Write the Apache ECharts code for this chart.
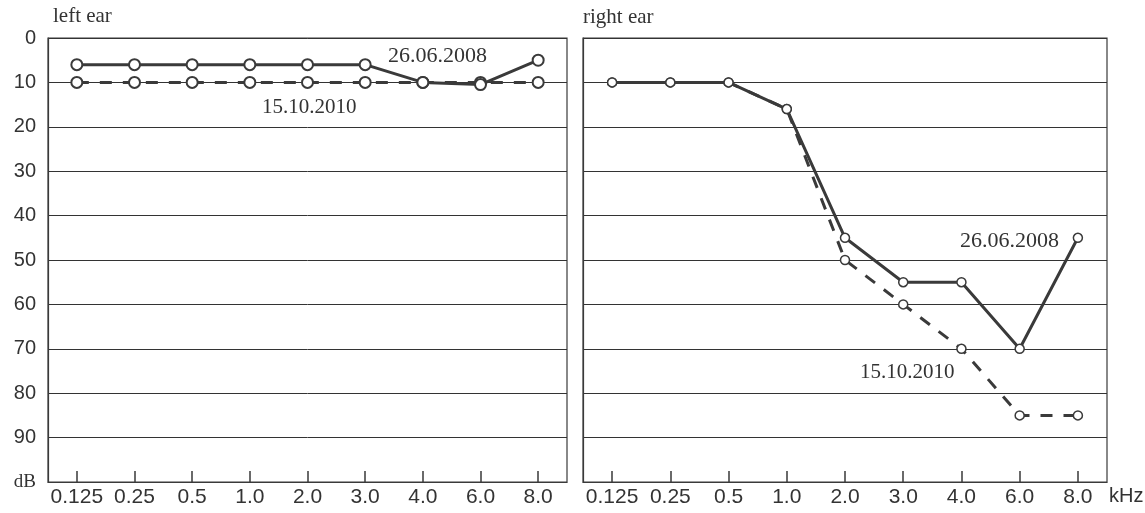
<!DOCTYPE html>
<html>
<head>
<meta charset="utf-8">
<script src="https://cdn.jsdelivr.net/npm/echarts@6/dist/echarts.min.js"></script>
<style>
  html, body { margin: 0; padding: 0; background: #ffffff; }
  #chart { width: 1145px; height: 513px; }
</style>
</head>
<body>
<div id="chart"></div>
<script>
// Audiometry frequencies (kHz) and hearing levels (dB)
const frequencies = ['0.125', '0.25', '0.5', '1.0', '2.0', '3.0', '4.0', '6.0', '8.0'];
const dbTicks = [0, 10, 20, 30, 40, 50, 60, 70, 80, 90, 100];

const leftEar2008 = [6, 6, 6, 6, 6, 6, 10, 10.5, 5];
const leftEar2010 = [10, 10, 10, 10, 10, 10, 10, 10, 10];
const rightEar2008 = [10, 10, 10, 16, 45, 55, 55, 70, 45];
const rightEar2010 = [10, 10, 10, 16, 50, 60, 70, 85, 85];

const ink = '#3a3a3a';
const sans = 'Liberation Sans, Arial, sans-serif';
const serif = 'Liberation Serif, Times New Roman, serif';

function xAxisFor(gridIndex) {
  return {
    type: 'category',
    gridIndex: gridIndex,
    position: 'bottom',
    data: frequencies,
    boundaryGap: true,
    axisLine: { show: true, onZero: false, lineStyle: { color: ink, width: 1.2 } },
    axisTick: { show: true, inside: true, length: 11, alignWithLabel: true, interval: 0, lineStyle: { color: ink, width: 1.5 } },
    axisLabel: { color: '#333', fontFamily: sans, fontSize: 21, margin: 5, interval: 0 },
    splitLine: { show: false }
  };
}

function yAxisFor(gridIndex, showLabels) {
  return {
    type: 'value',
    gridIndex: gridIndex,
    inverse: true,
    min: dbTicks[0],
    max: dbTicks[dbTicks.length - 1],
    interval: 10,
    axisLine: { show: true, onZero: false, lineStyle: { color: ink, width: 1.2 } },
    axisTick: { show: false },
    splitLine: { show: true, lineStyle: { color: '#333', width: 1 } },
    axisLabel: {
      show: showLabels,
      color: '#333',
      fontFamily: sans,
      fontSize: 20,
      margin: 12,
      formatter: function (v) { return v === 100 ? '{u|dB}' : String(v); },
      rich: { u: { fontFamily: serif, fontSize: 19, color: '#333' } }
    }
  };
}

function curve(name, data, idx, dashed, symbolSize, borderWidth) {
  return {
    name: name,
    type: 'line',
    xAxisIndex: idx,
    yAxisIndex: idx,
    data: data,
    symbol: 'circle',
    symbolSize: symbolSize,
    showAllSymbol: true,
    z: dashed ? 2 : 3,
    lineStyle: { color: ink, width: 3, type: dashed ? [12, 11] : 'solid' },
    itemStyle: { color: '#ffffff', borderColor: ink, borderWidth: borderWidth },
    emphasis: { disabled: true },
    animation: false
  };
}

const chart = echarts.init(document.getElementById('chart'), null, { renderer: 'canvas' });
chart.setOption({
  animation: false,
  backgroundColor: '#ffffff',
  grid: [
    { left: 48, right: 578, top: 38, bottom: 31, show: true, borderColor: ink, borderWidth: 1.2 },
    { left: 583, right: 38, top: 38, bottom: 31, show: true, borderColor: ink, borderWidth: 1.2 }
  ],
  xAxis: [xAxisFor(0), xAxisFor(1)],
  yAxis: [yAxisFor(0, true), yAxisFor(1, false)],
  series: [
    curve('26.06.2008', leftEar2008, 0, false, 11, 2),
    curve('15.10.2010', leftEar2010, 0, true, 11, 2),
    curve('26.06.2008', rightEar2008, 1, false, 9, 1.5),
    curve('15.10.2010', rightEar2010, 1, true, 9, 1.5)
  ],
  graphic: [
    { type: 'text', left: 53, top: 6, style: { text: 'left ear', fill: '#333', font: '21px ' + serif } },
    { type: 'text', left: 583, top: 7, style: { text: 'right ear', fill: '#333', font: '21px ' + serif } },
    { type: 'text', left: 1109, top: 486, style: { text: 'kHz', fill: '#333', font: '20px ' + sans } },
    { type: 'text', left: 388, top: 45, style: { text: '26.06.2008', fill: '#333', font: '22px ' + serif } },
    { type: 'text', left: 262, top: 97, style: { text: '15.10.2010', fill: '#333', font: '21px ' + serif } },
    { type: 'text', left: 960, top: 230, style: { text: '26.06.2008', fill: '#333', font: '22px ' + serif } },
    { type: 'text', left: 860, top: 362, style: { text: '15.10.2010', fill: '#333', font: '21px ' + serif } }
  ]
});
</script>
</body>
</html>
